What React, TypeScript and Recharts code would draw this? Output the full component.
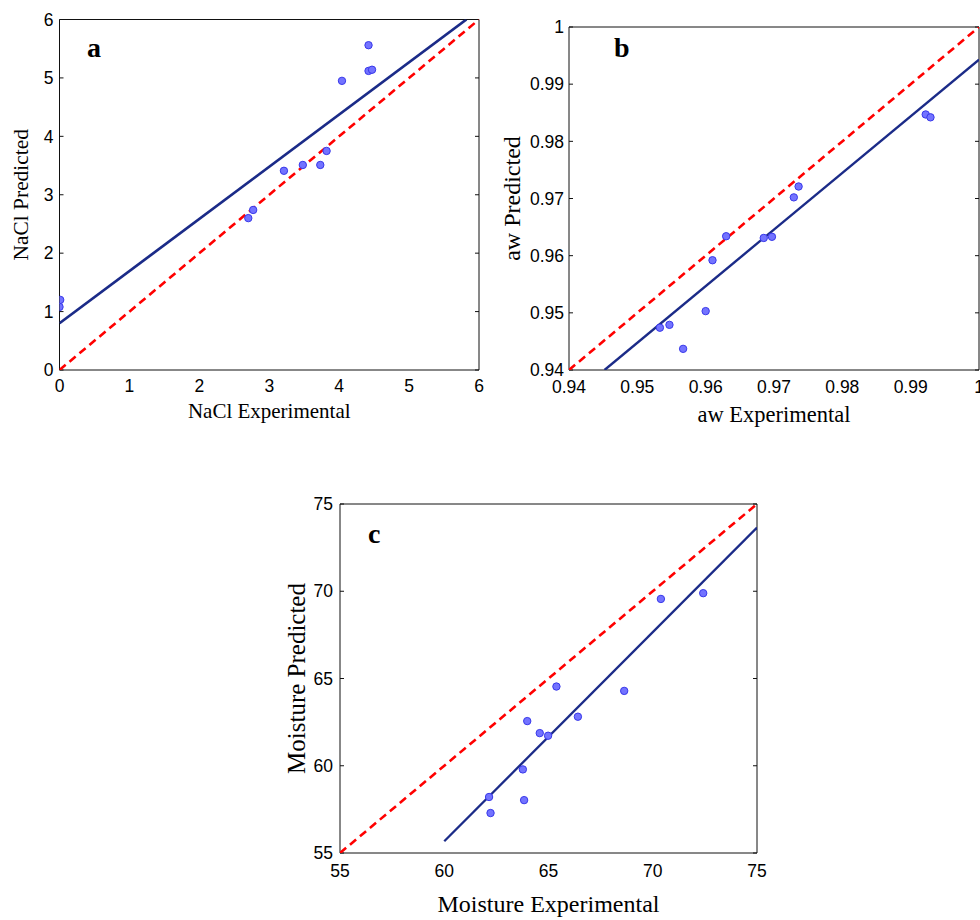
import React from 'react';
import { ScatterChart, Scatter, XAxis, YAxis } from 'recharts';

// ---- Panel a: NaCl ----
const naclExperimental = [0.01, 0.0, 2.7, 2.77, 3.21, 3.48, 3.73, 3.82, 4.04, 4.42, 4.42, 4.47];
const naclPredicted = [1.2, 1.08, 2.6, 2.74, 3.41, 3.51, 3.51, 3.75, 4.95, 5.56, 5.12, 5.14];
const naclFitX = [0, 5.82];
const naclFitY = [0.8, 6];
const naclTicks = [0, 1, 2, 3, 4, 5, 6];

// ---- Panel b: aw ----
const awExperimental = [0.9533, 0.9547, 0.9567, 0.96, 0.961, 0.963, 0.9685, 0.9697, 0.9729, 0.9736, 0.9922, 0.9929];
const awPredicted = [0.9474, 0.9479, 0.9437, 0.9503, 0.9592, 0.9634, 0.9631, 0.9633, 0.9702, 0.9721, 0.9847, 0.9842];
const awFitX = [0.9452, 1.0];
const awFitY = [0.94, 0.9943];
const awTicks = [0.94, 0.95, 0.96, 0.97, 0.98, 0.99, 1];

// ---- Panel c: Moisture ----
const moistExperimental = [62.15, 62.22, 63.77, 63.83, 63.98, 64.58, 64.98, 65.38, 66.41, 68.63, 70.39, 72.42];
const moistPredicted = [58.21, 57.29, 59.79, 58.03, 62.56, 61.87, 61.72, 64.54, 62.81, 64.29, 69.56, 69.89];
const moistFitX = [60, 75];
const moistFitY = [55.67, 73.65];
const moistTicks = [55, 60, 65, 70, 75];

const zip = (xs: number[], ys: number[]) => xs.map((x, i) => ({ x, y: ys[i] }));

const SANS = "'Liberation Sans', Arial, sans-serif";
const SERIF = "'Liberation Serif', 'Times New Roman', serif";

type PanelProps = {
  left: number; top: number; width: number; height: number;
  margin: { top: number; right: number; bottom: number; left: number };
  yAxisWidth: number; xAxisHeight: number;
  domain: [number, number]; ticks: number[];
  points: { x: number; y: number }[];
  fit: { x: number; y: number }[];
  xLabel: string; yLabel: string; xTitleSize: number; yTitleSize: number;
  xLabelDy: number; yLabelDx: number;
  xTickMargin: number; yTickMargin: number;
  lineWidth: number;
};

const Dot = (p: any) => (
  <circle cx={p.cx} cy={p.cy} r={3.7} fill="#7373ff" stroke="#3838ea" strokeWidth={1} />
);
const Nothing = () => <g />;

function Panel(props: PanelProps) {
  const { domain, ticks } = props;
  const diag = [{ x: domain[0], y: domain[0] }, { x: domain[1], y: domain[1] }];
  const tickStyle = { fontSize: 17.5, fontFamily: SANS, fill: '#000' };
  const hidden = { fill: 'none' };
  const axisStroke = { stroke: '#111', strokeWidth: 1 };
  return (
    <div style={{ position: 'absolute', left: props.left, top: props.top }}>
      <ScatterChart width={props.width} height={props.height} margin={props.margin}>
        <XAxis xAxisId="x" type="number" dataKey="x" domain={domain} ticks={ticks} allowDataOverflow interval={0}
          height={props.xAxisHeight} tickLine={false} tickSize={0} tickMargin={props.xTickMargin}
          axisLine={axisStroke} tick={tickStyle}
          label={{ value: props.xLabel, position: 'center', dy: props.xLabelDy, fontSize: props.xTitleSize, fontFamily: SERIF, fill: '#000' }} />
        <XAxis xAxisId="xb" type="number" domain={domain} ticks={ticks} allowDataOverflow interval={0}
          orientation="bottom" mirror tickSize={4} axisLine={false} tickLine={axisStroke} tick={hidden} />
        <XAxis xAxisId="xt" type="number" domain={domain} ticks={ticks} allowDataOverflow interval={0}
          orientation="top" mirror tickSize={4} axisLine={axisStroke} tickLine={axisStroke} tick={hidden} />
        <YAxis yAxisId="y" type="number" dataKey="y" domain={domain} ticks={ticks} allowDataOverflow interval={0}
          width={props.yAxisWidth} tickLine={false} tickSize={0} tickMargin={props.yTickMargin}
          axisLine={axisStroke} tick={tickStyle}
          label={{ value: props.yLabel, position: 'center', angle: -90, dx: props.yLabelDx, fontSize: props.yTitleSize, fontFamily: SERIF, fill: '#000' }} />
        <YAxis yAxisId="yl" type="number" domain={domain} ticks={ticks} allowDataOverflow interval={0}
          orientation="left" mirror tickSize={4} axisLine={false} tickLine={axisStroke} tick={hidden} />
        <YAxis yAxisId="yr" type="number" domain={domain} ticks={ticks} allowDataOverflow interval={0}
          orientation="right" mirror tickSize={4} axisLine={axisStroke} tickLine={axisStroke} tick={hidden} />
        <Scatter xAxisId="x" yAxisId="y" data={diag} isAnimationActive={false} shape={Nothing}
          line={{ stroke: '#ff0000', strokeWidth: 2.6, strokeDasharray: '8 5' }} fill="#ff0000" />
        <Scatter xAxisId="x" yAxisId="y" data={props.fit} isAnimationActive={false} shape={Nothing}
          line={{ stroke: '#1b2b88', strokeWidth: props.lineWidth }} fill="#1b2b88" />
        <Scatter xAxisId="x" yAxisId="y" data={props.points} isAnimationActive={false} shape={Dot} fill="#7373ff" />
      </ScatterChart>
    </div>
  );
}

const letterStyle = (left: number, top: number): React.CSSProperties => ({
  position: 'absolute', left, top, fontFamily: SERIF, fontWeight: 'bold', fontSize: 28, lineHeight: '28px', color: '#000',
});

export default function App() {
  return (
    <div style={{ position: 'absolute', left: 0, top: 0, width: 980, height: 920, overflow: 'hidden', background: '#fff' }}>
      <Panel left={0} top={0} width={490} height={440}
        margin={{ top: 19.5, right: 11, bottom: 0, left: 0 }} yAxisWidth={59.5} xAxisHeight={70}
        domain={[0, 6]} ticks={naclTicks}
        points={zip(naclExperimental, naclPredicted)} fit={zip(naclFitX, naclFitY)}
        xLabel="NaCl Experimental" yLabel="NaCl Predicted" xTitleSize={21} yTitleSize={21.4}
        xLabelDy={6} yLabelDx={-9.5} xTickMargin={10} yTickMargin={6} lineWidth={2.7} />
      <Panel left={490} top={0} width={520} height={440}
        margin={{ top: 27, right: 31, bottom: 0, left: 0 }} yAxisWidth={79} xAxisHeight={70}
        domain={[0.94, 1]} ticks={awTicks}
        points={zip(awExperimental, awPredicted)} fit={zip(awFitX, awFitY)}
        xLabel="aw Experimental" yLabel="aw Predicted" xTitleSize={22.5} yTitleSize={24}
        xLabelDy={9} yLabelDx={-18.5} xTickMargin={11} yTickMargin={5} lineWidth={2.4} />
      <Panel left={270} top={480} width={500} height={440}
        margin={{ top: 24, right: 13, bottom: 0, left: 0 }} yAxisWidth={70} xAxisHeight={67}
        domain={[55, 75]} ticks={moistTicks}
        points={zip(moistExperimental, moistPredicted)} fit={zip(moistFitX, moistFitY)}
        xLabel="Moisture Experimental" yLabel="Moisture Predicted" xTitleSize={24} yTitleSize={25}
        xLabelDy={16.5} yLabelDx={-8.5} xTickMargin={12} yTickMargin={7} lineWidth={2.3} />
      <div style={letterStyle(87, 34)}>a</div>
      <div style={letterStyle(614, 34)}>b</div>
      <div style={letterStyle(368, 520)}>c</div>
    </div>
  );
}
